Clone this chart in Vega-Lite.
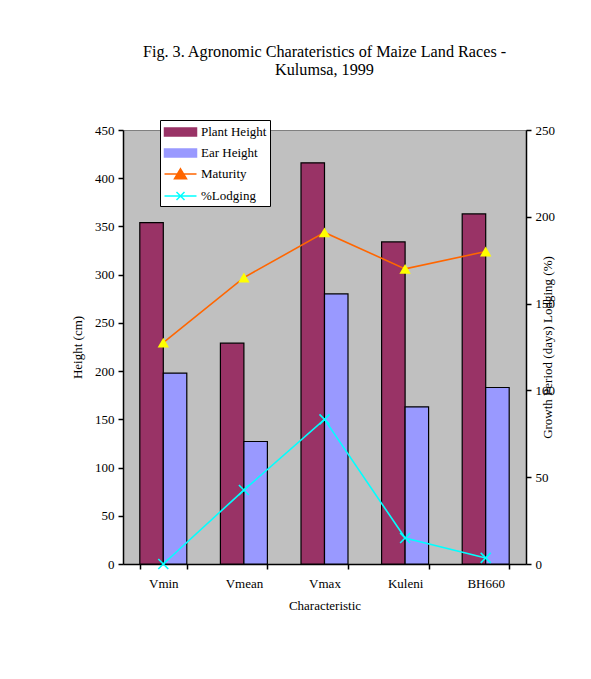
{
  "$schema": "https://vega.github.io/schema/vega-lite/v6.json",
  "width": 403,
  "height": 434,
  "autosize": "none",
  "padding": {"left": 123, "top": 130, "right": 65, "bottom": 115},
  "background": "white",
  "title": {
    "text": ["Fig. 3. Agronomic Charateristics of Maize Land Races -", "Kulumsa, 1999"],
    "font": "Liberation Serif",
    "fontSize": 16.2,
    "fontWeight": "normal",
    "color": "black",
    "anchor": "middle",
    "baseline": "alphabetic",
    "offset": 28,
    "lineHeight": 18
  },
  "config": {
    "view": {"fill": "#C0C0C0", "stroke": "#808080"},
    "axis": {
      "labelFont": "Liberation Serif",
      "titleFont": "Liberation Serif",
      "labelFontSize": 13,
      "titleFontSize": 13,
      "titleFontWeight": "normal",
      "labelColor": "black",
      "titleColor": "black",
      "domainColor": "black",
      "tickColor": "black",
      "domainWidth": 1.5,
      "tickWidth": 1.5,
      "tickSize": 5,
      "grid": false
    }
  },
  "datasets": {
    "heights": [
      {"cat": "Vmin", "series": "Plant Height", "value": 354},
      {"cat": "Vmin", "series": "Ear Height", "value": 198},
      {"cat": "Vmean", "series": "Plant Height", "value": 229},
      {"cat": "Vmean", "series": "Ear Height", "value": 127},
      {"cat": "Vmax", "series": "Plant Height", "value": 416},
      {"cat": "Vmax", "series": "Ear Height", "value": 280},
      {"cat": "Kuleni", "series": "Plant Height", "value": 334},
      {"cat": "Kuleni", "series": "Ear Height", "value": 163},
      {"cat": "BH660", "series": "Plant Height", "value": 363},
      {"cat": "BH660", "series": "Ear Height", "value": 183}
    ],
    "periods": [
      {"cat": "Vmin", "series": "Maturity", "value": 127.5},
      {"cat": "Vmean", "series": "Maturity", "value": 165},
      {"cat": "Vmax", "series": "Maturity", "value": 191},
      {"cat": "Kuleni", "series": "Maturity", "value": 170},
      {"cat": "BH660", "series": "Maturity", "value": 180},
      {"cat": "Vmin", "series": "%Lodging", "value": 0},
      {"cat": "Vmean", "series": "%Lodging", "value": 42.6},
      {"cat": "Vmax", "series": "%Lodging", "value": 83.3},
      {"cat": "Kuleni", "series": "%Lodging", "value": 15},
      {"cat": "BH660", "series": "%Lodging", "value": 3.5}
    ]
  },
  "layer": [
    {
      "data": {"name": "heights"},
      "mark": {"type": "bar", "stroke": "black", "strokeWidth": 1.2},
      "encoding": {
        "x": {
          "field": "cat",
          "type": "nominal",
          "sort": ["Vmin", "Vmean", "Vmax", "Kuleni", "BH660"],
          "scale": {"paddingInner": 0.417, "paddingOuter": 0.2085},
          "axis": {
            "title": "Characteristic",
            "labelAngle": 0,
            "tickBand": "extent",
            "labelPadding": 8,
            "titlePadding": 9
          }
        },
        "xOffset": {
          "field": "series",
          "type": "nominal",
          "sort": ["Plant Height", "Ear Height"],
          "scale": {"paddingInner": 0, "paddingOuter": 0}
        },
        "y": {
          "field": "value",
          "type": "quantitative",
          "scale": {"domain": [0, 450], "nice": false},
          "axis": {
            "title": "Height (cm)",
            "values": [0, 50, 100, 150, 200, 250, 300, 350, 400, 450],
            "labelPadding": 4,
            "titlePadding": 10
          }
        },
        "color": {
          "field": "series",
          "type": "nominal",
          "scale": {
            "domain": ["Plant Height", "Ear Height", "Maturity", "%Lodging"],
            "range": ["#993366", "#9999FF", "#FF6600", "#00FFFF"]
          },
          "legend": {
            "title": null,
            "orient": "none",
            "legendX": 37,
            "legendY": -10,
            "direction": "vertical",
            "strokeColor": "black",
            "fillColor": "white",
            "padding": 3,
            "labelFont": "Liberation Serif",
            "labelFontSize": 13,
            "labelColor": "black",
            "symbolSize": 256,
            "symbolOffset": 8.5,
            "labelOffset": 11.5,
            "rowPadding": 5,
            "encoding": {
              "symbols": {
                "size": {"value": 256},
                "strokeWidth": {"value": 1.5},
                "opacity": {"value": 1},
                "shape": {"value": {"expr": "datum.value === 'Maturity' ? 'M-2,0H2M0,-0.65L0.75,0.6L-0.75,0.6Z' : datum.value === '%Lodging' ? 'M-2,0H2M-0.5,-0.5L0.5,0.5M-0.5,0.5L0.5,-0.5' : 'M-2,-0.5H2V0.5H-2Z'"}},
                "fill": {"value": {"expr": "datum.value === 'Plant Height' ? '#993366' : datum.value === 'Ear Height' ? '#9999FF' : datum.value === 'Maturity' ? '#FFFF00' : 'transparent'"}},
                "stroke": {"value": {"expr": "datum.value === 'Maturity' ? '#FF6600' : datum.value === '%Lodging' ? '#00FFFF' : 'black'"}}
              }
            }
          }
        }
      }
    },
    {
      "data": {"name": "periods"},
      "layer": [
        {
          "mark": {"type": "line", "strokeWidth": 1.6},
          "encoding": {
            "x": {"field": "cat", "type": "nominal", "sort": ["Vmin", "Vmean", "Vmax", "Kuleni", "BH660"]},
            "y": {
              "field": "value",
              "type": "quantitative",
              "scale": {"domain": [0, 250], "nice": false},
              "axis": {
                "orient": "right",
                "title": "Growth Period (days) Lodging (%)",
                "values": [0, 50, 100, 150, 200, 250],
                "labelPadding": 4,
                "titleAngle": 270,
                "titleX": 21,
                "titleY": 217,
                "titleAlign": "center",
                "titleBaseline": "middle"
              }
            },
            "color": {"field": "series", "type": "nominal"},
            "order": {"value": null}
          }
        },
        {
          "transform": [{"filter": "datum.series === 'Maturity'"}],
          "mark": {"type": "point", "shape": "triangle-up", "filled": true, "fill": "#FFFF00", "size": 130, "opacity": 1},
          "encoding": {
            "x": {"field": "cat", "type": "nominal", "sort": ["Vmin", "Vmean", "Vmax", "Kuleni", "BH660"]},
            "y": {"field": "value", "type": "quantitative", "scale": {"domain": [0, 250], "nice": false}}
          }
        },
        {
          "transform": [{"filter": "datum.series === '%Lodging'"}],
          "mark": {"type": "point", "shape": "M-1,-1L1,1M-1,1L1,-1", "filled": false, "stroke": "#00FFFF", "strokeWidth": 1.6, "size": 100, "opacity": 1},
          "encoding": {
            "x": {"field": "cat", "type": "nominal", "sort": ["Vmin", "Vmean", "Vmax", "Kuleni", "BH660"]},
            "y": {"field": "value", "type": "quantitative", "scale": {"domain": [0, 250], "nice": false}}
          }
        }
      ]
    }
  ],
  "resolve": {"scale": {"y": "independent"}}
}
